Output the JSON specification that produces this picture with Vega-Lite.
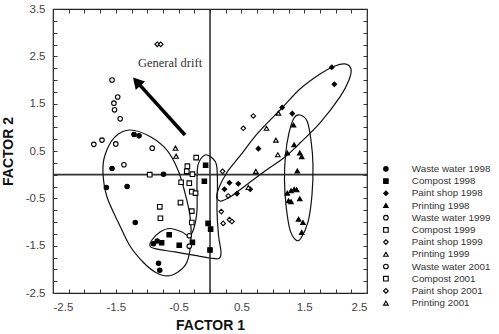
{
  "$schema": "https://vega.github.io/schema/vega-lite/v6.json",
  "width": 314,
  "height": 284,
  "autosize": "none",
  "padding": {"left": 53, "top": 9, "right": 132, "bottom": 41},
  "background": "white",
  "config": {
    "view": {"stroke": "#222", "strokeWidth": 1.2},
    "axis": {
      "domain": false, "grid": false, "tickColor": "#333", "tickSize": -4, "tickWidth": 1,
      "labelFont": "Liberation Sans", "labelFontSize": 11.5, "labelColor": "#444",
      "titleFont": "Liberation Sans", "titleFontSize": 14, "titleFontWeight": "bold", "titleColor": "#111"
    },
    "legend": {
      "labelFont": "Liberation Sans", "labelFontSize": 9.8, "labelColor": "#333",
      "rowPadding": 1.2, "labelOffset": 21, "symbolStrokeWidth": 1.1
    }
  },
  "datasets": {
    "points": [
      {"g": "Waste water 1998", "x": -1.21, "y": 0.85},
      {"g": "Waste water 1998", "x": -1.13, "y": 0.82},
      {"g": "Waste water 1998", "x": -1.56, "y": 0.13},
      {"g": "Waste water 1998", "x": -1.65, "y": -0.27},
      {"g": "Waste water 1998", "x": -1.32, "y": -0.25},
      {"g": "Waste water 1998", "x": -1.19, "y": -1.01},
      {"g": "Waste water 1998", "x": -0.74, "y": 0.01},
      {"g": "Waste water 1998", "x": -0.90, "y": -1.46},
      {"g": "Waste water 1998", "x": -0.84, "y": -1.40},
      {"g": "Waste water 1998", "x": -0.82, "y": -1.87},
      {"g": "Waste water 1998", "x": -0.80, "y": -2.02},
      {"g": "Compost 1998", "x": -0.77, "y": -1.44},
      {"g": "Compost 1998", "x": -0.65, "y": -1.27},
      {"g": "Compost 1998", "x": -0.49, "y": -1.49},
      {"g": "Compost 1998", "x": -0.28, "y": -1.43},
      {"g": "Compost 1998", "x": -0.03, "y": -1.03},
      {"g": "Compost 1998", "x": 0.01, "y": -1.15},
      {"g": "Compost 1998", "x": 0.0, "y": -1.59},
      {"g": "Compost 1998", "x": -0.07, "y": 0.20},
      {"g": "Compost 1998", "x": -0.09, "y": -0.14},
      {"g": "Paint shop 1998", "x": 1.94, "y": 2.27},
      {"g": "Paint shop 1998", "x": 1.98, "y": 1.91},
      {"g": "Paint shop 1998", "x": 1.15, "y": 1.42},
      {"g": "Paint shop 1998", "x": 1.31, "y": 1.29},
      {"g": "Paint shop 1998", "x": 0.77, "y": 0.55},
      {"g": "Paint shop 1998", "x": 0.31, "y": -0.17},
      {"g": "Paint shop 1998", "x": 0.45, "y": -0.19},
      {"g": "Paint shop 1998", "x": 0.23, "y": -0.31},
      {"g": "Paint shop 1998", "x": 0.43, "y": -0.40},
      {"g": "Paint shop 1998", "x": 0.64, "y": -0.31},
      {"g": "Printing 1998", "x": 1.33, "y": 1.05},
      {"g": "Printing 1998", "x": 1.34, "y": 0.63},
      {"g": "Printing 1998", "x": 1.23, "y": 0.46},
      {"g": "Printing 1998", "x": 1.43, "y": 0.46},
      {"g": "Printing 1998", "x": 1.46, "y": 0.38},
      {"g": "Printing 1998", "x": 1.39, "y": 0.08},
      {"g": "Printing 1998", "x": 1.23, "y": -0.39},
      {"g": "Printing 1998", "x": 1.29, "y": -0.34},
      {"g": "Printing 1998", "x": 1.34, "y": -0.31},
      {"g": "Printing 1998", "x": 1.38, "y": -0.32},
      {"g": "Printing 1998", "x": 1.25, "y": -0.55},
      {"g": "Printing 1998", "x": 1.29, "y": -0.57},
      {"g": "Printing 1998", "x": 1.43, "y": -0.51},
      {"g": "Printing 1998", "x": 1.41, "y": -0.94},
      {"g": "Printing 1998", "x": 1.48, "y": -1.01},
      {"g": "Printing 1998", "x": 1.46, "y": -1.22},
      {"g": "Waste water 1999", "x": -1.56, "y": 2.00},
      {"g": "Waste water 1999", "x": -1.47, "y": 1.64},
      {"g": "Waste water 1999", "x": -1.53, "y": 1.51},
      {"g": "Waste water 1999", "x": -1.52, "y": 1.37},
      {"g": "Waste water 1999", "x": -1.43, "y": 1.18},
      {"g": "Waste water 1999", "x": -1.85, "y": 0.64},
      {"g": "Waste water 1999", "x": -1.72, "y": 0.73},
      {"g": "Waste water 1999", "x": -1.50, "y": 0.65},
      {"g": "Waste water 1999", "x": -0.92, "y": 0.56},
      {"g": "Waste water 1999", "x": -1.37, "y": 0.21},
      {"g": "Waste water 1999", "x": -0.33, "y": -1.29},
      {"g": "Waste water 1999", "x": -0.33, "y": -1.51},
      {"g": "Compost 1999", "x": -0.22, "y": 0.36},
      {"g": "Compost 1999", "x": -0.36, "y": 0.18},
      {"g": "Compost 1999", "x": -0.37, "y": 0.07},
      {"g": "Compost 1999", "x": -0.28, "y": 0.01},
      {"g": "Compost 1999", "x": -0.46, "y": -0.16},
      {"g": "Compost 1999", "x": -0.33, "y": -0.18},
      {"g": "Compost 1999", "x": -0.29, "y": -0.36},
      {"g": "Compost 1999", "x": -0.23, "y": -0.39},
      {"g": "Compost 1999", "x": -0.47, "y": -0.59},
      {"g": "Compost 1999", "x": -0.80, "y": -0.68},
      {"g": "Compost 1999", "x": -0.79, "y": -0.92},
      {"g": "Compost 1999", "x": -0.29, "y": -0.77},
      {"g": "Compost 1999", "x": -0.29, "y": -1.01},
      {"g": "Paint shop 1999", "x": 0.69, "y": 1.24},
      {"g": "Paint shop 1999", "x": 0.53, "y": 0.98},
      {"g": "Paint shop 1999", "x": 0.20, "y": 0.07},
      {"g": "Paint shop 1999", "x": 0.29, "y": -0.45},
      {"g": "Paint shop 1999", "x": 0.18, "y": -0.78},
      {"g": "Paint shop 1999", "x": 0.21, "y": -1.03},
      {"g": "Paint shop 1999", "x": 0.31, "y": -0.95},
      {"g": "Paint shop 1999", "x": 0.35, "y": -0.99},
      {"g": "Printing 1999", "x": 1.09, "y": 1.30},
      {"g": "Printing 1999", "x": 0.90, "y": 0.98},
      {"g": "Printing 1999", "x": 1.05, "y": 0.73},
      {"g": "Printing 1999", "x": 1.08, "y": 0.42},
      {"g": "Printing 1999", "x": 0.73, "y": 0.07},
      {"g": "Printing 1999", "x": 0.61, "y": -0.27},
      {"g": "Compost 2001", "x": -0.96, "y": 0.0},
      {"g": "Paint shop 2001", "x": -0.84, "y": 2.755},
      {"g": "Paint shop 2001", "x": -0.785, "y": 2.755},
      {"g": "Printing 2001", "x": -0.55, "y": 0.56},
      {"g": "Printing 2001", "x": -0.54, "y": 0.39}
    ],
    "curves": [
      {"c": "A", "i": 0, "x": -1.274, "y": 0.944},
      {"c": "A", "i": 1, "x": -0.955, "y": 0.807},
      {"c": "A", "i": 2, "x": -0.689, "y": 0.522},
      {"c": "A", "i": 3, "x": -0.510, "y": 0.099},
      {"c": "A", "i": 4, "x": -0.398, "y": -0.387},
      {"c": "A", "i": 5, "x": -0.318, "y": -0.873},
      {"c": "A", "i": 6, "x": -0.303, "y": -1.380},
      {"c": "A", "i": 7, "x": -0.366, "y": -1.845},
      {"c": "A", "i": 8, "x": -0.510, "y": -2.056},
      {"c": "A", "i": 9, "x": -0.685, "y": -2.140},
      {"c": "A", "i": 10, "x": -0.876, "y": -2.056},
      {"c": "A", "i": 11, "x": -1.067, "y": -1.845},
      {"c": "A", "i": 12, "x": -1.274, "y": -1.506},
      {"c": "A", "i": 13, "x": -1.433, "y": -1.084},
      {"c": "A", "i": 14, "x": -1.640, "y": -0.471},
      {"c": "A", "i": 15, "x": -1.704, "y": 0.036},
      {"c": "A", "i": 16, "x": -1.672, "y": 0.416},
      {"c": "A", "i": 17, "x": -1.513, "y": 0.797},
      {"c": "B", "i": 0, "x": -0.080, "y": 0.416},
      {"c": "B", "i": 1, "x": 0.032, "y": 0.353},
      {"c": "B", "i": 2, "x": 0.104, "y": 0.205},
      {"c": "B", "i": 3, "x": 0.119, "y": -0.218},
      {"c": "B", "i": 4, "x": 0.111, "y": -0.746},
      {"c": "B", "i": 5, "x": 0.135, "y": -1.274},
      {"c": "B", "i": 6, "x": 0.175, "y": -1.633},
      {"c": "B", "i": 7, "x": 0.143, "y": -1.771},
      {"c": "B", "i": 8, "x": 0.0, "y": -1.760},
      {"c": "B", "i": 9, "x": -0.239, "y": -1.707},
      {"c": "B", "i": 10, "x": -0.557, "y": -1.633},
      {"c": "B", "i": 11, "x": -0.860, "y": -1.569},
      {"c": "B", "i": 12, "x": -0.955, "y": -1.506},
      {"c": "B", "i": 13, "x": -0.924, "y": -1.380},
      {"c": "B", "i": 14, "x": -0.796, "y": -1.211},
      {"c": "B", "i": 15, "x": -0.637, "y": -1.137},
      {"c": "B", "i": 16, "x": -0.446, "y": -1.211},
      {"c": "B", "i": 17, "x": -0.334, "y": -1.295},
      {"c": "B", "i": 18, "x": -0.255, "y": -1.126},
      {"c": "B", "i": 19, "x": -0.207, "y": -0.746},
      {"c": "B", "i": 20, "x": -0.207, "y": -0.218},
      {"c": "B", "i": 21, "x": -0.191, "y": 0.205},
      {"c": "C", "i": 0, "x": 2.150, "y": 2.339},
      {"c": "C", "i": 1, "x": 2.245, "y": 2.233},
      {"c": "C", "i": 2, "x": 2.213, "y": 2.001},
      {"c": "C", "i": 3, "x": 2.070, "y": 1.642},
      {"c": "C", "i": 4, "x": 1.752, "y": 1.093},
      {"c": "C", "i": 5, "x": 1.433, "y": 0.670},
      {"c": "C", "i": 6, "x": 1.194, "y": 0.374},
      {"c": "C", "i": 7, "x": 0.876, "y": 0.078},
      {"c": "C", "i": 8, "x": 0.557, "y": -0.239},
      {"c": "C", "i": 9, "x": 0.318, "y": -0.471},
      {"c": "C", "i": 10, "x": 0.159, "y": -0.556},
      {"c": "C", "i": 11, "x": 0.111, "y": -0.408},
      {"c": "C", "i": 12, "x": 0.255, "y": 0.015},
      {"c": "C", "i": 13, "x": 0.478, "y": 0.395},
      {"c": "C", "i": 14, "x": 0.764, "y": 0.881},
      {"c": "C", "i": 15, "x": 1.146, "y": 1.409},
      {"c": "C", "i": 16, "x": 1.433, "y": 1.811},
      {"c": "C", "i": 17, "x": 1.752, "y": 2.128},
      {"c": "C", "i": 18, "x": 1.990, "y": 2.297},
      {"c": "D", "i": 0, "x": 1.433, "y": 1.261},
      {"c": "D", "i": 1, "x": 1.545, "y": 1.135},
      {"c": "D", "i": 2, "x": 1.608, "y": 0.733},
      {"c": "D", "i": 3, "x": 1.640, "y": 0.205},
      {"c": "D", "i": 4, "x": 1.624, "y": -0.429},
      {"c": "D", "i": 5, "x": 1.561, "y": -0.999},
      {"c": "D", "i": 6, "x": 1.449, "y": -1.338},
      {"c": "D", "i": 7, "x": 1.369, "y": -1.380},
      {"c": "D", "i": 8, "x": 1.274, "y": -1.168},
      {"c": "D", "i": 9, "x": 1.210, "y": -0.640},
      {"c": "D", "i": 10, "x": 1.186, "y": -0.112},
      {"c": "D", "i": 11, "x": 1.202, "y": 0.416},
      {"c": "D", "i": 12, "x": 1.258, "y": 0.881},
      {"c": "D", "i": 13, "x": 1.338, "y": 1.198}
    ]
  },
  "layer": [
    {
      "data": {"values": [{"v": 0}]},
      "mark": {"type": "rule", "color": "#333", "strokeWidth": 1.6},
      "encoding": {
        "x": {"field": "v", "type": "quantitative",
          "scale": {"domain": [-2.5, 2.5], "nice": false, "zero": false},
          "axis": {"orient": "top", "labels": false, "title": null,
            "values": [-2.5,-2.25,-2,-1.75,-1.5,-1.25,-1,-0.75,-0.5,-0.25,0,0.25,0.5,0.75,1,1.25,1.5,1.75,2,2.25,2.5]}}
      }
    },
    {
      "data": {"values": [{"v": 0}]},
      "mark": {"type": "rule", "color": "#333", "strokeWidth": 1.6},
      "encoding": {
        "y": {"field": "v", "type": "quantitative",
          "scale": {"domain": [-2.5, 3.5], "nice": false, "zero": false},
          "axis": {"orient": "right", "labels": false, "title": null,
            "values": [-2.5,-2.25,-2,-1.75,-1.5,-1.25,-1,-0.75,-0.5,-0.25,0,0.25,0.5,0.75,1,1.25,1.5,1.75,2,2.25,2.5,2.75,3,3.25,3.5]}}
      }
    },
    {
      "data": {"name": "curves"},
      "mark": {"type": "line", "interpolate": "cardinal-closed", "color": "#111", "strokeWidth": 1.2},
      "encoding": {
        "x": {"field": "x", "type": "quantitative", "axis": null},
        "y": {"field": "y", "type": "quantitative", "axis": null},
        "detail": {"field": "c"},
        "order": {"field": "i"}
      }
    },
    {
      "data": {"name": "points"},
      "mark": {"type": "point", "strokeWidth": 1.1, "opacity": 1},
      "encoding": {
        "x": {"field": "x", "type": "quantitative", "title": "FACTOR 1",
          "scale": {"domain": [-2.5, 2.5], "nice": false, "zero": false},
          "axis": {"orient": "bottom", "format": ".1f", "labelPadding": 12, "titlePadding": 6,
            "values": [-2.5,-2.25,-2,-1.75,-1.5,-1.25,-1,-0.75,-0.5,-0.25,0,0.25,0.5,0.75,1,1.25,1.5,1.75,2,2.25,2.5],
            "labelExpr": "(datum.value + 2.5) % 1 == 0 ? replace(datum.label, '\u2212', '-') : ''"}},
        "y": {"field": "y", "type": "quantitative", "title": "FACTOR 2",
          "scale": {"domain": [-2.5, 3.5], "nice": false, "zero": false},
          "axis": {"orient": "left", "format": ".1f", "labelPadding": 12, "titlePadding": 10,
            "values": [-2.5,-2.25,-2,-1.75,-1.5,-1.25,-1,-0.75,-0.5,-0.25,0,0.25,0.5,0.75,1,1.25,1.5,1.75,2,2.25,2.5,2.75,3,3.25,3.5],
            "labelExpr": "(datum.value + 2.5) % 1 == 0 ? replace(datum.label, '\u2212', '-') : ''"}},
        "shape": {"field": "g", "type": "nominal",
          "scale": {"domain": ["Waste water 1998","Compost 1998","Paint shop 1998","Printing 1998","Waste water 1999","Compost 1999","Paint shop 1999","Printing 1999","Waste water 2001","Compost 2001","Paint shop 2001","Printing 2001"],
            "range": ["circle","square","diamond","triangle-up","circle","square","diamond","triangle-up","circle","square","diamond","triangle-up"]},
          "legend": {"title": null, "orient": "none", "legendX": 328, "legendY": 155}},
        "fill": {"field": "g", "type": "nominal",
          "scale": {"domain": ["Waste water 1998","Compost 1998","Paint shop 1998","Printing 1998","Waste water 1999","Compost 1999","Paint shop 1999","Printing 1999","Waste water 2001","Compost 2001","Paint shop 2001","Printing 2001"],
            "range": ["black","black","black","black","white","white","white","white","white","white","white","white"]},
          "legend": {"title": null, "orient": "none", "legendX": 328, "legendY": 155}},
        "stroke": {"field": "g", "type": "nominal",
          "scale": {"domain": ["Waste water 1998","Compost 1998","Paint shop 1998","Printing 1998","Waste water 1999","Compost 1999","Paint shop 1999","Printing 1999","Waste water 2001","Compost 2001","Paint shop 2001","Printing 2001"],
            "range": ["black","black","black","black","black","black","black","black","black","black","black","black"]},
          "legend": {"title": null, "orient": "none", "legendX": 328, "legendY": 155}},
        "size": {"field": "g", "type": "nominal",
          "scale": {"domain": ["Waste water 1998","Compost 1998","Paint shop 1998","Printing 1998","Waste water 1999","Compost 1999","Paint shop 1999","Printing 1999","Waste water 2001","Compost 2001","Paint shop 2001","Printing 2001"],
            "range": [20,22,22,26,30,32,32,34,64,72,72,64]},
          "legend": {"title": null, "orient": "none", "legendX": 328, "legendY": 155}}
      }
    },
    {
      "data": {"values": [{"x": -0.398, "y": 0.839, "x2": -1.145, "y2": 1.933}]},
      "mark": {"type": "rule", "color": "black", "strokeWidth": 3.5},
      "encoding": {
        "x": {"field": "x", "type": "quantitative", "axis": null},
        "y": {"field": "y", "type": "quantitative", "axis": null},
        "x2": {"field": "x2"},
        "y2": {"field": "y2"}
      }
    },
    {
      "data": {"values": [{"x": -1.167, "y": 1.965}]},
      "mark": {"type": "point", "shape": "triangle-up", "filled": true, "color": "black", "opacity": 1, "size": 160, "angle": 317.8},
      "encoding": {
        "x": {"field": "x", "type": "quantitative", "axis": null},
        "y": {"field": "y", "type": "quantitative", "axis": null}
      }
    },
    {
      "data": {"values": [{"x": -0.637, "y": 2.354, "t": "General drift"}]},
      "mark": {"type": "text", "font": "Liberation Serif", "fontSize": 12.5, "color": "#333", "align": "center", "baseline": "middle"},
      "encoding": {
        "x": {"field": "x", "type": "quantitative", "axis": null},
        "y": {"field": "y", "type": "quantitative", "axis": null},
        "text": {"field": "t"}
      }
    }
  ],
  "resolve": {"axis": {"x": "independent", "y": "independent"}}
}
